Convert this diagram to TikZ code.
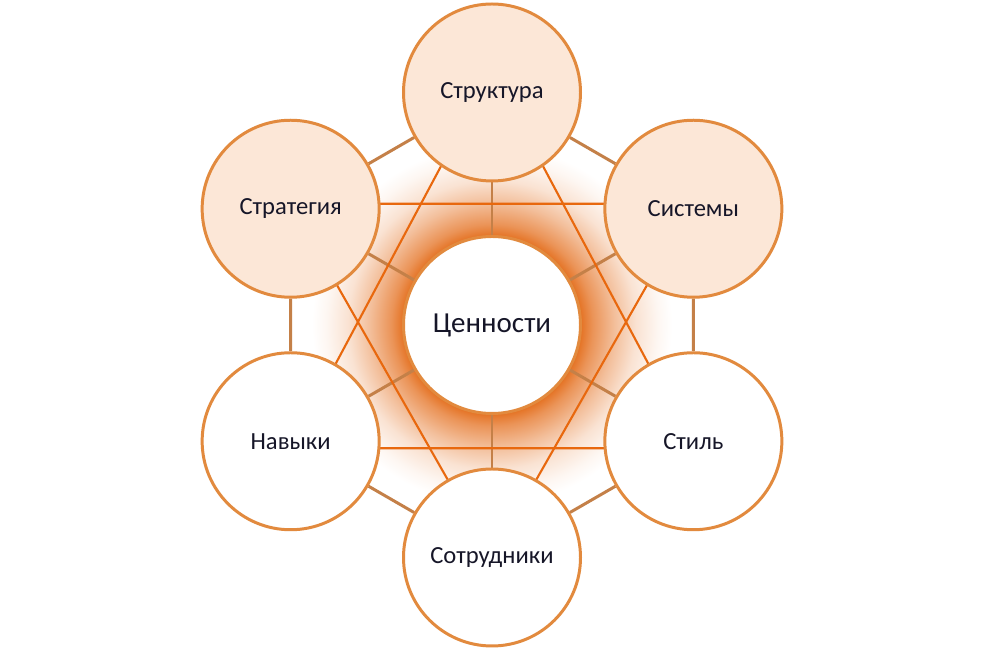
\documentclass[tikz,border=0pt]{standalone}
\usepackage{fontspec}
\setmainfont{Carlito}
\usetikzlibrary{calc,backgrounds}
\definecolor{ringc}{RGB}{226,138,62}
\definecolor{fillc}{RGB}{252,231,215}
\definecolor{spokec}{RGB}{196,128,72}
\definecolor{starc}{RGB}{232,104,14}
\definecolor{glowc}{RGB}{228,112,32}
\definecolor{txtc}{RGB}{22,22,40}
\pgfdeclareradialshading{cglow}{\pgfpointorigin}{color(0bp)=(glowc); color(12.2bp)=(glowc); color(14bp)=(glowc!75); color(17bp)=(glowc!45); color(20bp)=(glowc!20); color(23bp)=(glowc!6); color(25bp)=(white); color(50bp)=(white)}
\begin{document}
\begin{tikzpicture}[font=\fontsize{14}{17}\selectfont,
 ring/.style={circle,draw=ringc,line width=1.7pt,minimum size=3.54cm,inner sep=0pt,text=txtc},
 hot/.style={ring,fill=fillc},
 cold/.style={ring,fill=white},
 spoke/.style={draw=spokec,line width=1.7pt},
 star/.style={draw=starc,line width=1.2pt}]
 \useasboundingbox (0,0) rectangle (20,13.34);
 % центр и шесть кругов
 \node[cold,font=\fontsize{16.5}{19}\selectfont] (c) at (9.84,6.84) {Ценности};
 \foreach \n/\a/\s/\t in {str/90/hot/Структура, sis/30/hot/Системы, stl/-30/cold/Стиль, sot/-90/cold/Сотрудники, nav/210/cold/Навыки, stg/150/hot/Стратегия}
  \node[\s] (\n) at ($(c)+(\a:4.65)$) {\t};
 \begin{scope}[on background layer]
  \fill[white] (0,0) rectangle (20,13.34);
  \shade[shading=cglow] (c) circle (3.6);
  \foreach \n in {str,sis,stl,sot,nav,stg}
   \draw[spoke] (c) -- (\n);
  \draw[spoke] (str) -- (sis) -- (stl) -- (sot) -- (nav) -- (stg) -- (str);
  % звезда
  \draw[star] ([yshift=0.44cm]str.center) -- ([yshift=-0.14cm]nav.center) -- ([yshift=-0.14cm]stl.center) -- cycle;
  \draw[star] ([yshift=0.1cm]stg.center) -- ([yshift=0.1cm]sis.center) -- (sot.center) -- cycle;
 \end{scope}
\end{tikzpicture}
\end{document}
